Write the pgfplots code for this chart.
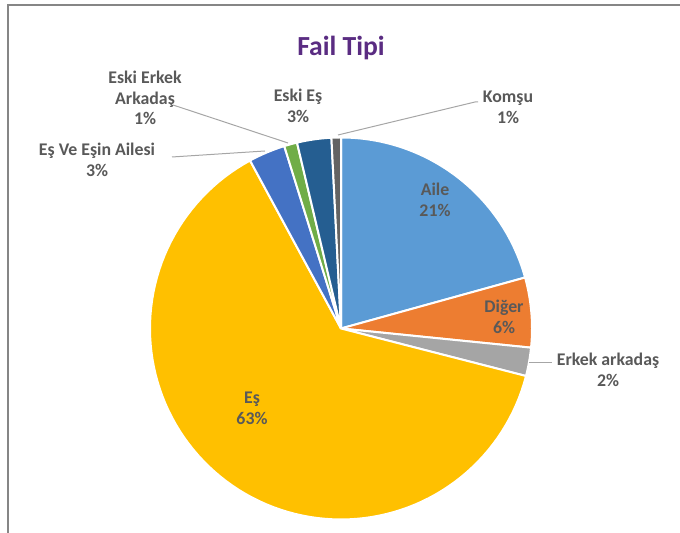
\documentclass[border=0pt]{standalone}
\usepackage{pgfplots}
\usepackage{pgfplotstable}
\pgfplotsset{compat=1.18}
\usepackage{fontspec}
\setmainfont{Carlito}
\definecolor{slice0}{HTML}{5B9BD5}
\definecolor{slice1}{HTML}{ED7D31}
\definecolor{slice2}{HTML}{A5A5A5}
\definecolor{slice3}{HTML}{FFC000}
\definecolor{slice4}{HTML}{4472C4}
\definecolor{slice5}{HTML}{70AD47}
\definecolor{slice6}{HTML}{255E91}
\definecolor{slice7}{HTML}{636363}
\definecolor{lbl}{HTML}{595959}
\definecolor{titlec}{HTML}{5A2C82}
\definecolor{leader}{HTML}{A6A6A6}
\definecolor{framec}{HTML}{868686}
% pie values (percent), clockwise from 12 o'clock
\pgfplotstableread{
name value
Aile 20.7
Diger 5.9
ErkekArkadas 2.4
Es 63.1
EsVeEsinAilesi 3.1
EskiErkekArkadas 1.1
EskiEs 2.9
Komsu 0.8
}\piedata
\begin{document}
\begin{tikzpicture}
\path[use as bounding box] (0,0) rectangle (340pt,266.5pt);
\begin{axis}[hide axis, scale only axis, width=340pt, height=266.5pt,
  xmin=0, xmax=680, ymin=0, ymax=533, clip=false, anchor=south west, at={(0,0)}]
\addplot[draw=framec, line width=0.9pt, no marks] coordinates {(8,0) (8,528) (680,528)};
\pgfplotstablegetrowsof{\piedata}
\pgfmathtruncatemacro\nrows{\pgfplotsretval-1}
\def\cum{0}
\pgfplotsforeachungrouped \i in {0,...,\nrows}{%
  \pgfplotstablegetelem{\i}{value}\of\piedata
  \let\v\pgfplotsretval
  \pgfmathsetmacro\a{90-3.6*\cum}
  \pgfmathsetmacro\b{90-3.6*(\cum+\v)}
  \pgfmathsetmacro\cum{\cum+\v}
  \edef\temp{\noexpand\addplot[fill=slice\i, draw=white, line width=1pt, domain=\b:\a, samples=100, no marks] ({341+191*cos(x)},{204.5+191*sin(x)}) -- (axis cs:341,204.5) -- cycle;}
  \temp
}
% leader lines
\addplot[draw=leader, line width=0.5pt, no marks] coordinates {(529,170) (552,170)};
\addplot[draw=leader, line width=0.5pt, no marks] coordinates {(172,376) (265,382)};
\addplot[draw=leader, line width=0.5pt, no marks] coordinates {(173,428) (288,390)};
\addplot[draw=leader, line width=0.5pt, no marks] coordinates {(338,398) (475,431) (478,431)};
% labels
\tikzset{lab/.style={font=\fontsize{8.9}{10.4}\selectfont\bfseries, text=lbl, align=center, inner sep=0pt}}
\node[font=\fontsize{13.8}{16}\selectfont\bfseries, text=titlec] at (axis cs:341,485) {Fail Tipi};
\node[lab] at (axis cs:435,333) {Aile\\21\%};
\node[lab] at (axis cs:504,216) {Diğer\\6\%};
\node[lab] at (axis cs:608,163) {Erkek arkadaş\\2\%};
\node[lab] at (axis cs:252,125) {Eş\\63\%};
\node[lab] at (axis cs:97,373) {Eş Ve Eşin Ailesi\\3\%};
\node[lab] at (axis cs:145,435) {Eski Erkek\\Arkadaş\\1\%};
\node[lab] at (axis cs:298,427) {Eski Eş\\3\%};
\node[lab] at (axis cs:508,426) {Komşu\\1\%};
\end{axis}
\end{tikzpicture}
\end{document}
